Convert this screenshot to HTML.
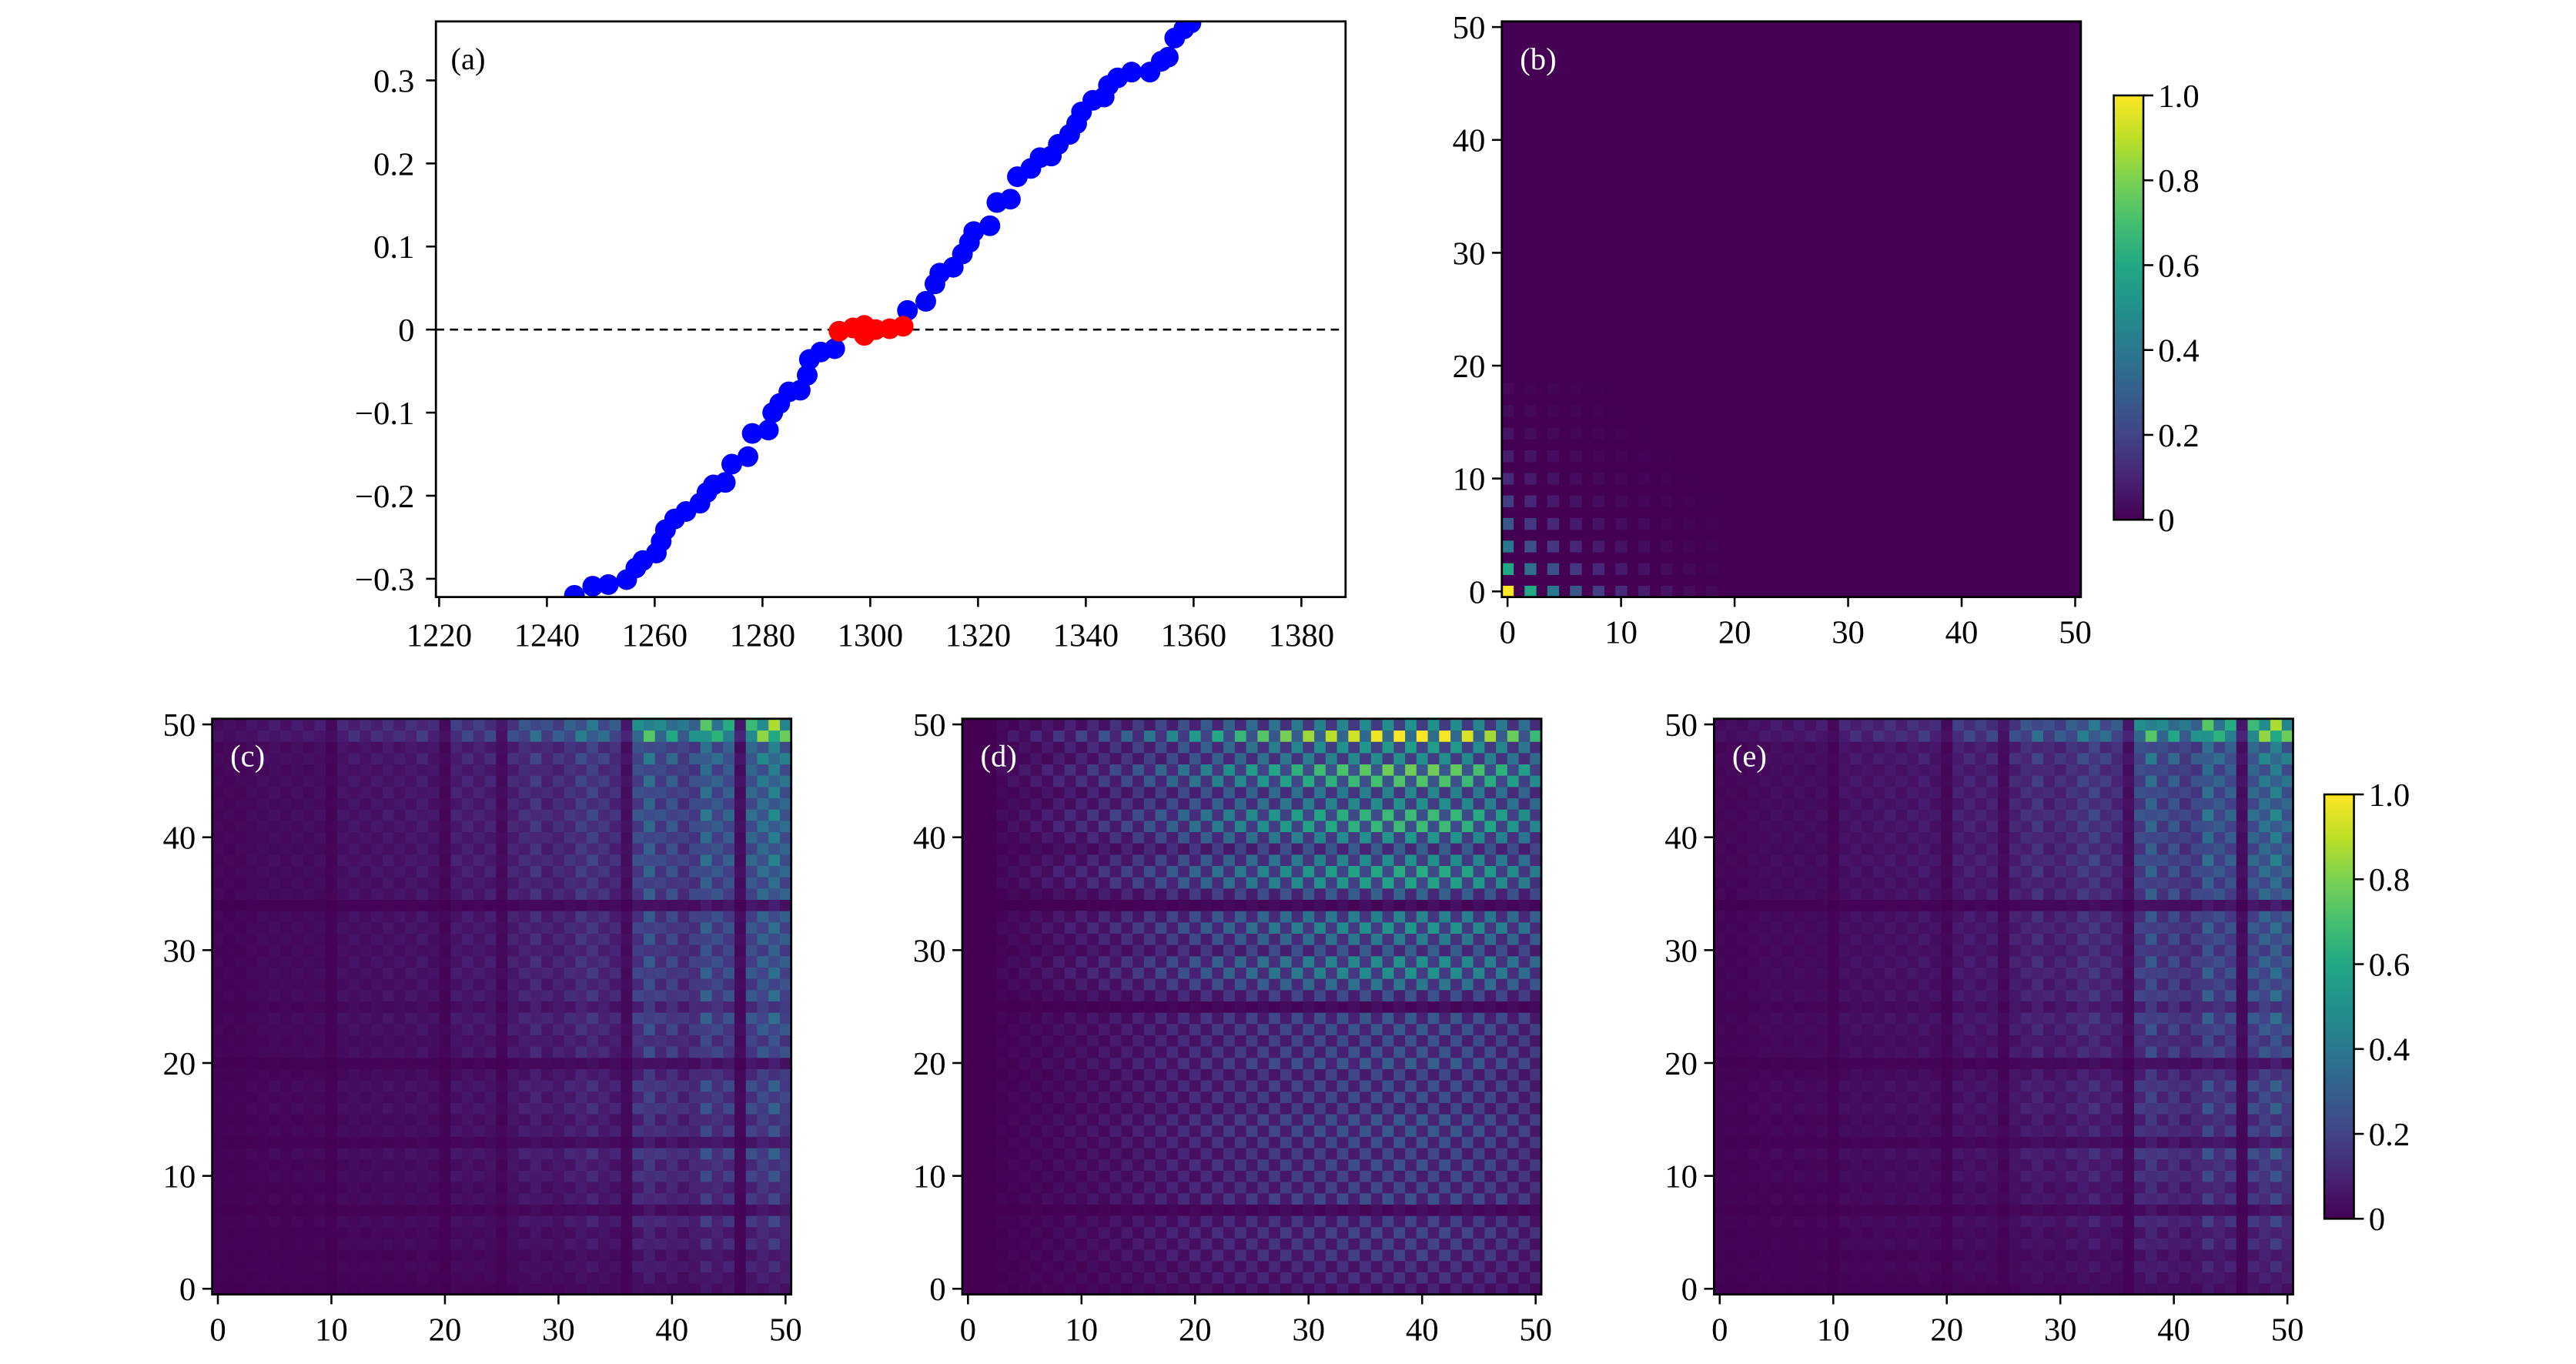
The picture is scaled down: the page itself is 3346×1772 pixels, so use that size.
<!DOCTYPE html>
<html><head><meta charset="utf-8"><style>
html,body{margin:0;padding:0;background:#fff;}
svg{display:block;font-family:"Liberation Serif",serif;}
</style></head><body>
<svg id="fig" width="3346" height="1772" viewBox="0 0 1566 829.3" xmlns="http://www.w3.org/2000/svg">
<defs>
<linearGradient id="vir" x1="0" y1="1" x2="0" y2="0">
<stop offset="0" stop-color="#440154"/><stop offset="0.1" stop-color="#482475"/><stop offset="0.2" stop-color="#414487"/><stop offset="0.3" stop-color="#355f8d"/><stop offset="0.4" stop-color="#2a788e"/><stop offset="0.5" stop-color="#21918c"/><stop offset="0.6" stop-color="#22a884"/><stop offset="0.7" stop-color="#44bf70"/><stop offset="0.8" stop-color="#7ad151"/><stop offset="0.9" stop-color="#bddf26"/><stop offset="1" stop-color="#fde725"/>
</linearGradient>
<clipPath id="clipA"><rect x="265" y="13" width="553" height="350"/></clipPath>
</defs>
</svg>
<script>
// ---- Panel (a) data ----
const blueX=[1245.1,1248.5,1251.4,1254.8,1256.5,1257.8,1260.3,1261.2,1262.0,1263.7,1265.8,1268.4,1269.7,1270.9,1273.1,1274.3,1277.3,1278.1,1281.1,1281.9,1283.2,1284.9,1287.0,1288.3,1288.7,1290.8,1293.4,
1306.9,1310.3,1312.0,1312.9,1315.4,1317.1,1318.4,1319.2,1322.2,1323.5,1326.0,1327.3,1329.8,1331.5,1333.6,1334.9,1337.0,1338.3,1339.2,1341.3,1343.4,1344.2,1345.9,1348.5,1351.9,1354.0,1355.3,1356.5,1358.2,1359.5];
const blueY=[-0.320,-0.309,-0.307,-0.301,-0.287,-0.278,-0.269,-0.255,-0.241,-0.228,-0.219,-0.209,-0.196,-0.187,-0.184,-0.162,-0.153,-0.125,-0.121,-0.100,-0.089,-0.075,-0.073,-0.055,-0.036,-0.027,-0.023,
0.023,0.034,0.055,0.068,0.075,0.091,0.105,0.118,0.125,0.153,0.157,0.184,0.194,0.207,0.209,0.223,0.235,0.248,0.262,0.276,0.280,0.294,0.303,0.310,0.310,0.323,0.328,0.351,0.362,0.369];
const redX=[1294.2,1296.8,1298.9,1298.9,1301.0,1303.6,1306.1];
const redY=[-0.002,0.002,0.005,-0.007,0.000,0.001,0.004];
const aXTicks=[1220,1240,1260,1280,1300,1320,1340,1360,1380];
const aYTicks=[-0.3,-0.2,-0.1,0,0.1,0.2,0.3];
const aYLabels=["\u22120.3","\u22120.2","\u22120.1","0","0.1","0.2","0.3"];
// ---- Panel (b) data: amplitude at even indices ----
const bAmp=[1,0.6,0.4,0.27,0.18,0.12,0.08,0.05,0.03,0.02];
// ---- Panel (c) data ----
const colC=[0.15,0.15,0.15,0.18,0.2,0.22,0.2,0.22,0.21,0.23,0.12,0.28,0.3,0.28,0.3,0.32,0.3,0.32,0.35,0.3,0.15,0.38,0.4,0.38,0.4,0.2,0.43,0.48,0.55,0.45,0.48,0.52,0.6,0.62,0.55,0.5,0.25,0.7,0.85,0.68,0.75,0.62,0.68,0.9,0.78,0.8,0.25,0.85,0.92,1.0,0.88];
const rowC=[0.2,0.25,0.3,0.25,0.35,0.3,0.4,0.2,0.4,0.35,0.45,0.4,0.5,0.25,0.45,0.4,0.5,0.45,0.5,0.4,0.22,0.5,0.45,0.52,0.55,0.4,0.55,0.5,0.55,0.55,0.5,0.55,0.55,0.55,0.22,0.58,0.55,0.6,0.62,0.58,0.6,0.62,0.65,0.6,0.62,0.65,0.6,0.7,0.62,1.0,0.95];
// ---- Panel (d) data ----
const colD=[0,0,0,0.05,0.07,0.09,0.11,0.13,0.16,0.18,0.2,0.23,0.26,0.29,0.32,0.35,0.39,0.42,0.46,0.49,0.53,0.56,0.6,0.63,0.66,0.7,0.73,0.76,0.79,0.82,0.85,0.87,0.89,0.91,0.93,0.95,0.97,0.99,1,1,1,1,0.99,0.97,0.94,0.9,0.86,0.82,0.77,0.72,0.67];
const rowD=[0.1,0.15,0.15,0.2,0.2,0.22,0.2,0.04,0.25,0.22,0.22,0.25,0.22,0.25,0.28,0.28,0.22,0.25,0.25,0.22,0.3,0.27,0.25,0.28,0.28,0.04,0.25,0.4,0.5,0.5,0.3,0.42,0.52,0.45,0.04,0.32,0.58,0.62,0.5,0.3,0.52,0.68,0.68,0.5,0.45,0.72,0.78,0.5,0.55,1.0,0.5];
// ---- Panel (e) data ----
const colE=[0.15,0.15,0.15,0.18,0.2,0.22,0.2,0.22,0.21,0.23,0.12,0.28,0.3,0.28,0.3,0.32,0.3,0.32,0.35,0.3,0.15,0.38,0.4,0.38,0.4,0.2,0.43,0.48,0.55,0.45,0.48,0.52,0.6,0.62,0.55,0.5,0.25,0.7,0.85,0.68,0.75,0.62,0.68,0.9,0.78,0.8,0.25,0.85,0.92,1.0,0.88];
const rowE=[0.2,0.25,0.3,0.25,0.35,0.3,0.4,0.2,0.4,0.35,0.45,0.4,0.5,0.25,0.45,0.4,0.5,0.45,0.5,0.4,0.22,0.5,0.45,0.52,0.55,0.4,0.55,0.5,0.55,0.55,0.5,0.55,0.55,0.55,0.22,0.58,0.55,0.6,0.62,0.58,0.6,0.62,0.65,0.6,0.62,0.65,0.6,0.7,0.62,1.0,0.95];
const hmTicks=[0,10,20,30,40,50];
const cbTicks=[0,0.2,0.4,0.6,0.8,1.0];
const cbLabels=["0","0.2","0.4","0.6","0.8","1.0"];

const NS="http://www.w3.org/2000/svg";
const svg=document.getElementById('fig');
function mk(tag,attrs,parent){const e=document.createElementNS(NS,tag);for(const k in attrs)e.setAttribute(k,attrs[k]);(parent||svg).appendChild(e);return e;}
const VS=["#440154","#482475","#414487","#355f8d","#2a788e","#21918c","#22a884","#44bf70","#7ad151","#bddf26","#fde725"].map(h=>[parseInt(h.slice(1,3),16),parseInt(h.slice(3,5),16),parseInt(h.slice(5,7),16)]);
function viridis(v){v=Math.max(0,Math.min(1,v));const t=v*10,i=Math.min(9,Math.floor(t)),f=t-i;const a=VS[i],b=VS[i+1];return `rgb(${Math.round(a[0]+(b[0]-a[0])*f)},${Math.round(a[1]+(b[1]-a[1])*f)},${Math.round(a[2]+(b[2]-a[2])*f)})`;}

// ---- Panel (a) ----
const A={l:265,r:818,t:13,b:363,x0:1219.4,x1:1388.2,y0:-0.322,y1:0.371};
const ax=v=>A.l+(v-A.x0)/(A.x1-A.x0)*(A.r-A.l);
const ay=v=>A.b-(v-A.y0)/(A.y1-A.y0)*(A.b-A.t);
const gA=mk('g',{});


const zl=mk('line',{x1:A.l,x2:A.r,y1:ay(0),y2:ay(0),stroke:'#000','stroke-width':1.2,'stroke-dasharray':'5,3.5'},gA);


const pts=mk('g',{'clip-path':'url(#clipA)'},gA);
for(let i=0;i<blueX.length;i++){const c=mk('circle',{cx:ax(blueX[i]),cy:ay(blueY[i]),r:6.3,fill:'#0000ff'},pts);

}
for(let i=0;i<redX.length;i++){const c=mk('circle',{cx:ax(redX[i]),cy:ay(redY[i]),r:6.3,fill:'#ff0000'},pts);

}
const fa=mk('rect',{x:A.l,y:A.t,width:A.r-A.l,height:A.b-A.t,fill:'none',stroke:'#000','stroke-width':1.3},gA);


aXTicks.forEach(v=>{const x=ax(v);mk('line',{x1:x,x2:x,y1:A.b,y2:A.b+6,stroke:'#000','stroke-width':1.2},gA);
const t=mk('text',{x:x,y:A.b+30,'font-size':20,'text-anchor':'middle'},gA);t.textContent=v;

});
aYTicks.forEach((v,i)=>{const y=ay(v);mk('line',{x1:A.l-6,x2:A.l,y1:y,y2:y,stroke:'#000','stroke-width':1.2},gA);
const t=mk('text',{x:A.l-13,y:y+7,'font-size':20,'text-anchor':'end'},gA);t.textContent=aYLabels[i];

});
const la=mk('text',{x:274,y:42,'font-size':19},gA);la.textContent='(a)';



// ---- heatmap panels ----
function heatmap(name,l,t,valFn,label){
  const w=352,h=350,cw=w/51,ch=h/51;
  const g=mk('g',{});
  
  
  const hx=v=>l+(v+0.5)*cw, hy=v=>t+h-(v+0.5)*ch;
  mk('rect',{x:l,y:t,width:w,height:h,fill:viridis(0)},g);
  for(let i=0;i<51;i++)for(let j=0;j<51;j++){const v=valFn(i,j);if(v<=0.003)continue;
    const r=mk('rect',{x:hx(j-0.5),y:hy(i+0.5),width:cw+0.3,height:ch+0.3,fill:viridis(v)},g);
    
    }
  const f=mk('rect',{x:l,y:t,width:w,height:h,fill:'none',stroke:'#000','stroke-width':1.3},g);
  
  
  hmTicks.forEach(v=>{const x=hx(v),y=hy(v);
    mk('line',{x1:x,x2:x,y1:t+h,y2:t+h+6,stroke:'#000','stroke-width':1.2},g);
    mk('line',{x1:l-6,x2:l,y1:y,y2:y,stroke:'#000','stroke-width':1.2},g);
    const tx=mk('text',{x:x,y:t+h+28,'font-size':20,'text-anchor':'middle'},g);tx.textContent=v;
    
    
    const ty=mk('text',{x:l-10,y:y+7,'font-size':20,'text-anchor':'end'},g);ty.textContent=v;
    
    });
  const lb=mk('text',{x:l+11,y:t+29,'font-size':19,fill:'#fff'},g);lb.textContent=label;
  
  
}
heatmap('panel-b',913,13,(i,j)=>{if(i%2||j%2)return 0;const a=bAmp[i/2],b=bAmp[j/2];return (a===undefined||b===undefined)?0:a*b;},'(b)');
heatmap('panel-c',129,437,(i,j)=>Math.pow(colC[j]*rowC[i],1.6)*((i+j)%2?0.95:0.6),'(c)');
heatmap('panel-d',585,437,(i,j)=>colD[j]*rowD[i]*((i+j)%2?1:0.35),'(d)');
heatmap('panel-e',1042,437,(i,j)=>Math.pow(colE[j]*rowE[i],1.6)*((i+j)%2?0.95:0.6),'(e)');

function colorbar(name,l,t,h){
  const g=mk('g',{});
  
  
  mk('rect',{x:l,y:t,width:18,height:h,fill:'url(#vir)',stroke:'#000','stroke-width':1.2},g);
  cbTicks.forEach((v,i)=>{const y=t+h-v*h;
    mk('line',{x1:l+18,x2:l+24,y1:y,y2:y,stroke:'#000','stroke-width':1.2},g);
    const tx=mk('text',{x:l+27,y:y+7,'font-size':20},g);tx.textContent=cbLabels[i];
    
    });
}
colorbar('colorbar-b',1285,58,258);
colorbar('colorbar-e',1413,483,258);
</script>
</body></html>
